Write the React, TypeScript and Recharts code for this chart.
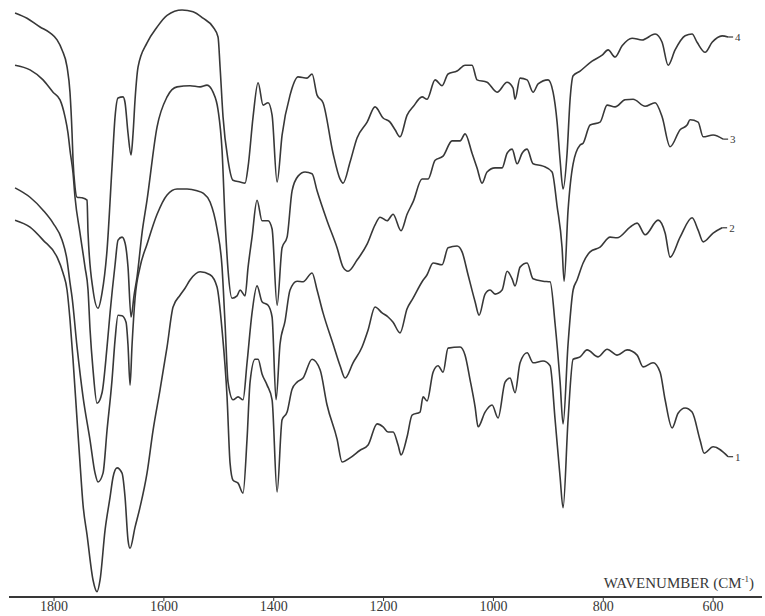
import { LineChart, Line, XAxis, YAxis } from "recharts"

// IR spectra, four samples, offset transmittance (arbitrary %, no y scale in the figure)
const wn4 = [1871.0, 1849.2, 1825.5, 1807.3, 1794.5, 1785.4, 1776.3, 1770.9, 1767.2, 1765.4, 1761.8, 1758.1, 1749.0, 1739.9, 1738.1, 1729.0, 1719.9, 1712.6, 1703.5, 1694.4, 1688.9, 1683.5, 1674.4, 1670.7, 1665.3, 1659.8, 1656.1, 1652.5, 1647.0, 1630.7, 1612.4, 1594.2, 1566.9, 1546.9, 1528.7, 1510.5, 1501.4, 1497.7, 1492.3, 1483.2, 1474.1, 1461.3, 1452.2, 1446.7, 1437.6, 1428.5, 1419.4, 1410.3, 1403.0, 1393.9, 1384.8, 1370.3, 1355.7, 1339.3, 1330.2, 1321.1, 1310.2, 1292.0, 1279.2, 1273.8, 1261.0, 1248.3, 1230.0, 1215.5, 1200.9, 1188.2, 1179.1, 1170.0, 1157.2, 1146.3, 1129.9, 1120.8, 1106.2, 1093.5, 1082.6, 1066.2, 1051.6, 1038.9, 1029.8, 1011.6, 993.3, 975.1, 964.2, 960.6, 951.5, 938.7, 927.8, 918.7, 900.5, 891.4, 884.1, 878.6, 873.2, 865.9, 860.4, 854.9, 842.2, 820.4, 802.1, 791.2, 778.5, 765.7, 747.5, 729.3, 705.6, 692.9, 681.9, 669.2, 651.0, 638.3, 629.2, 614.6, 601.8, 583.6, 572.7]
const tr4 = [99.5, 98.6, 97.1, 96.1, 94.9, 93.2, 90.3, 85.9, 79.0, 74.4, 69.8, 68.1, 68.0, 67.6, 62.0, 52.3, 49.2, 51.8, 59.1, 73.3, 81.8, 85.0, 85.2, 84.2, 79.0, 75.3, 79.0, 84.7, 90.3, 94.4, 97.1, 99.1, 100.0, 99.7, 98.6, 97.1, 95.4, 90.3, 81.8, 74.4, 71.0, 70.7, 70.5, 73.3, 81.8, 87.6, 83.8, 84.2, 82.1, 70.7, 78.7, 85.5, 88.6, 88.4, 89.1, 85.5, 84.2, 75.6, 71.2, 70.5, 74.1, 78.2, 80.9, 83.5, 81.6, 80.9, 79.6, 78.4, 82.1, 83.5, 85.2, 84.8, 88.1, 87.1, 89.1, 89.6, 90.6, 90.6, 88.1, 87.7, 86.0, 87.7, 86.7, 84.8, 88.4, 88.1, 86.0, 87.4, 88.1, 86.0, 80.9, 74.4, 69.5, 75.6, 84.8, 88.8, 89.6, 91.3, 92.3, 93.2, 92.0, 93.9, 95.2, 94.9, 95.9, 94.5, 90.6, 93.2, 95.6, 95.9, 94.5, 92.8, 94.5, 95.6, 95.4]

const wn3 = [1871.0, 1843.7, 1820.0, 1801.8, 1789.1, 1780.0, 1774.5, 1770.9, 1765.4, 1761.8, 1752.7, 1743.6, 1738.1, 1734.4, 1729.0, 1721.7, 1712.6, 1703.5, 1698.0, 1688.9, 1683.5, 1676.2, 1670.7, 1665.3, 1659.8, 1654.3, 1648.9, 1639.8, 1630.7, 1612.4, 1594.2, 1576.0, 1552.4, 1534.1, 1521.4, 1510.5, 1501.4, 1494.1, 1488.6, 1483.2, 1475.9, 1466.8, 1461.3, 1452.2, 1446.7, 1439.5, 1430.4, 1421.3, 1410.3, 1403.0, 1393.9, 1384.8, 1375.7, 1366.6, 1355.7, 1343.0, 1330.2, 1321.1, 1302.9, 1284.7, 1273.8, 1264.7, 1248.3, 1230.0, 1215.5, 1206.4, 1193.6, 1182.7, 1168.2, 1157.2, 1146.3, 1129.9, 1119.0, 1106.2, 1091.7, 1075.3, 1060.7, 1051.6, 1038.9, 1029.8, 1020.7, 1011.6, 997.0, 984.2, 975.1, 966.0, 956.9, 947.8, 938.7, 927.8, 909.6, 893.2, 884.1, 875.0, 871.3, 864.1, 854.9, 842.2, 836.7, 824.0, 805.8, 793.0, 778.5, 760.3, 745.7, 723.8, 705.6, 692.9, 678.3, 660.1, 647.4, 641.9, 627.3, 618.2, 600.0, 581.8]
const tr3 = [90.6, 89.8, 88.1, 86.0, 84.7, 81.8, 79.0, 76.1, 72.2, 68.1, 62.0, 56.2, 52.3, 45.5, 38.7, 33.0, 34.8, 42.6, 48.4, 56.6, 60.8, 61.3, 60.3, 56.2, 47.7, 51.4, 54.5, 62.0, 67.6, 80.1, 85.2, 86.9, 87.1, 86.9, 87.2, 86.0, 83.0, 76.1, 64.2, 55.7, 50.9, 51.3, 52.3, 51.3, 56.2, 61.3, 67.6, 64.1, 64.1, 62.7, 49.7, 59.5, 61.3, 69.2, 71.7, 72.4, 72.1, 69.2, 64.1, 59.5, 56.2, 55.5, 57.4, 60.1, 63.4, 64.7, 64.1, 65.2, 62.4, 65.2, 67.3, 71.2, 71.2, 74.4, 75.1, 77.7, 77.7, 78.9, 75.6, 73.1, 70.5, 72.4, 73.1, 73.1, 75.6, 76.3, 73.8, 75.6, 76.3, 73.8, 73.4, 72.4, 66.6, 59.5, 53.8, 65.9, 73.8, 77.0, 77.3, 80.4, 80.9, 83.8, 83.5, 84.7, 84.8, 83.6, 84.2, 81.8, 76.7, 79.6, 80.4, 81.3, 80.9, 78.4, 78.7, 78.0]

const wn2 = [1871.0, 1843.7, 1820.0, 1801.8, 1785.4, 1776.3, 1770.9, 1767.2, 1758.1, 1747.2, 1734.4, 1725.3, 1719.9, 1710.8, 1703.5, 1694.4, 1688.9, 1683.5, 1676.2, 1668.9, 1665.3, 1661.6, 1658.0, 1652.5, 1643.4, 1630.7, 1612.4, 1594.2, 1576.0, 1557.8, 1539.6, 1528.7, 1515.9, 1503.2, 1494.1, 1488.6, 1483.2, 1474.1, 1464.9, 1455.9, 1448.6, 1439.5, 1430.4, 1421.3, 1410.3, 1403.0, 1395.8, 1388.5, 1379.4, 1370.3, 1357.5, 1346.6, 1330.2, 1321.1, 1310.2, 1292.0, 1279.2, 1270.1, 1255.6, 1239.2, 1228.2, 1215.5, 1202.7, 1191.8, 1182.7, 1170.0, 1157.2, 1146.3, 1129.9, 1120.8, 1109.9, 1093.5, 1082.6, 1066.2, 1057.1, 1046.2, 1033.4, 1026.1, 1015.2, 1006.1, 997.0, 984.2, 975.1, 966.0, 960.6, 951.5, 938.7, 927.8, 909.6, 896.8, 887.7, 878.6, 873.2, 864.1, 854.9, 847.7, 836.7, 824.0, 805.8, 787.6, 774.8, 751.2, 738.4, 723.8, 700.2, 687.4, 678.3, 660.1, 638.3, 627.3, 618.2, 600.0, 583.6]
const tr2 = [69.7, 68.1, 65.9, 63.7, 60.8, 57.4, 53.5, 51.1, 42.6, 34.1, 26.7, 21.1, 19.6, 21.1, 28.4, 37.0, 43.8, 48.0, 47.9, 46.8, 42.9, 36.1, 42.9, 50.9, 56.2, 60.1, 65.2, 68.5, 69.5, 69.5, 69.2, 68.8, 67.3, 62.7, 56.2, 46.5, 36.6, 33.6, 34.1, 33.6, 39.9, 48.4, 53.0, 50.3, 49.7, 47.7, 33.6, 43.1, 47.0, 52.3, 53.8, 53.7, 55.2, 52.3, 48.4, 43.1, 39.4, 37.3, 39.9, 42.6, 45.5, 49.4, 48.4, 47.7, 46.8, 45.0, 49.1, 50.9, 53.7, 54.9, 56.9, 56.6, 59.5, 59.8, 58.8, 54.9, 50.3, 48.0, 51.6, 52.3, 51.6, 52.3, 55.5, 54.2, 53.0, 56.2, 56.9, 54.2, 53.8, 53.7, 46.5, 36.6, 29.5, 43.1, 52.3, 54.0, 56.9, 58.8, 59.6, 61.3, 61.2, 63.0, 63.7, 61.7, 64.2, 62.0, 57.9, 61.3, 64.6, 62.5, 60.5, 62.0, 62.9]

const wn1 = [1871.0, 1843.7, 1820.0, 1794.5, 1783.6, 1776.3, 1770.9, 1765.4, 1758.1, 1752.7, 1747.2, 1739.9, 1729.0, 1721.7, 1716.2, 1707.1, 1698.0, 1692.6, 1685.3, 1676.2, 1670.7, 1665.3, 1661.6, 1652.5, 1643.4, 1630.7, 1619.7, 1607.0, 1594.2, 1583.3, 1570.6, 1561.5, 1552.4, 1534.1, 1515.9, 1503.2, 1494.1, 1485.0, 1479.5, 1474.1, 1464.9, 1455.9, 1448.6, 1443.1, 1434.0, 1428.5, 1421.3, 1412.1, 1403.0, 1393.9, 1384.8, 1375.7, 1366.6, 1357.5, 1346.6, 1330.2, 1315.6, 1302.9, 1284.7, 1275.6, 1261.0, 1242.8, 1228.2, 1211.8, 1200.9, 1191.8, 1182.7, 1173.6, 1168.2, 1157.2, 1148.1, 1133.6, 1128.1, 1120.8, 1109.9, 1100.8, 1091.7, 1082.6, 1060.7, 1051.6, 1042.5, 1033.4, 1027.9, 1015.2, 1002.5, 991.5, 978.8, 969.7, 960.6, 951.5, 938.7, 927.8, 909.6, 896.8, 887.7, 878.6, 873.2, 864.1, 854.9, 842.2, 829.5, 809.4, 793.0, 774.8, 756.6, 738.4, 727.5, 709.3, 696.5, 687.4, 674.7, 663.8, 651.0, 638.3, 623.7, 616.4, 600.0, 572.7]
const tr1 = [64.2, 63.0, 60.8, 57.9, 55.2, 52.3, 47.2, 40.4, 30.2, 22.8, 15.7, 10.6, 2.9, 0.9, 2.9, 11.4, 17.0, 20.4, 22.0, 21.1, 17.0, 9.7, 8.3, 11.9, 15.3, 21.1, 28.4, 35.3, 42.6, 49.4, 51.4, 52.6, 54.0, 55.4, 54.9, 52.8, 45.5, 34.1, 22.8, 19.9, 19.4, 17.7, 26.9, 36.6, 40.5, 40.5, 38.0, 36.1, 33.6, 17.9, 30.2, 31.5, 35.4, 36.6, 37.3, 40.5, 38.7, 32.7, 26.9, 23.0, 23.7, 25.0, 25.9, 29.5, 29.0, 28.1, 28.1, 25.9, 24.2, 27.3, 31.0, 31.5, 34.1, 33.4, 38.3, 39.4, 38.3, 42.4, 42.6, 41.2, 37.0, 32.4, 29.0, 31.5, 32.7, 30.5, 36.6, 37.3, 34.8, 39.9, 41.6, 39.9, 40.2, 39.4, 30.2, 20.4, 15.2, 30.2, 40.5, 40.9, 42.1, 40.9, 42.2, 41.2, 42.1, 41.2, 39.2, 39.9, 38.3, 33.6, 28.8, 31.3, 32.2, 31.5, 26.7, 24.5, 25.6, 23.9]

const xTicks = [1800, 1600, 1400, 1200, 1000, 800, 600]

const series = [
  { name: "4", wn: wn4, tr: tr4 },
  { name: "3", wn: wn3, tr: tr3 },
  { name: "2", wn: wn2, tr: tr2 },
  { name: "1", wn: wn1, tr: tr1 },
].map((s) => ({ ...s, data: s.wn.map((w, i) => ({ w, t: s.tr[i] })) }))

const ink = "#383838"
const serif = "'Liberation Serif', 'DejaVu Serif', serif"

function endLabel(name: string, last: number) {
  return (props: any) => {
    if (props.index !== last) return <g key={props.index} />
    const { x, y } = props
    return (
      <g key={props.index}>
        <line x1={x} y1={y} x2={x + 5} y2={y} stroke={ink} strokeWidth={1.2} />
        <text x={x + 7} y={y} dy={4} fontSize={11} fontFamily={serif} fill={ink}>
          {name}
        </text>
      </g>
    )
  }
}

function AxisTitle(props: any) {
  const { viewBox } = props
  const x = viewBox.x + viewBox.width - 8
  const y = viewBox.y - 9
  return (
    <text x={x} y={y} textAnchor="end" fontSize={15} fontFamily={serif} fill={ink}>
      WAVENUMBER (CM
      <tspan fontSize={9} dy={-6}>-1</tspan>
      <tspan dy={6}>)</tspan>
    </text>
  )
}

export default function App() {
  return (
    <div style={{ position: "absolute", left: 0, top: 0, background: "#fff" }}>
      <LineChart
        width={765}
        height={616}
        margin={{ top: 10, right: 3, left: 9, bottom: 0 }}
      >
        <XAxis
          dataKey="w"
          type="number"
          domain={[511, 1882]}
          reversed
          allowDataOverflow
          ticks={xTicks}
          height={19}
          tickSize={4}
          tickMargin={0}
          axisLine={{ stroke: ink, strokeWidth: 2 }}
          tickLine={{ stroke: ink }}
          tick={{ fill: ink, fontSize: 14, fontFamily: serif }}
          label={<AxisTitle />}
        />
        <YAxis
          type="number"
          domain={[0, 100]}
          width={0}
          tick={false}
          tickLine={false}
          axisLine={{ stroke: ink, strokeWidth: 2 }}
        />
        {series.map((s) => (
          <Line
            key={s.name}
            data={s.data}
            dataKey="t"
            type="monotone"
            stroke={ink}
            strokeWidth={1.6}
            dot={false}
            activeDot={false}
            isAnimationActive={false}
            label={endLabel(s.name, s.data.length - 1)}
          />
        ))}
      </LineChart>
    </div>
  )
}
